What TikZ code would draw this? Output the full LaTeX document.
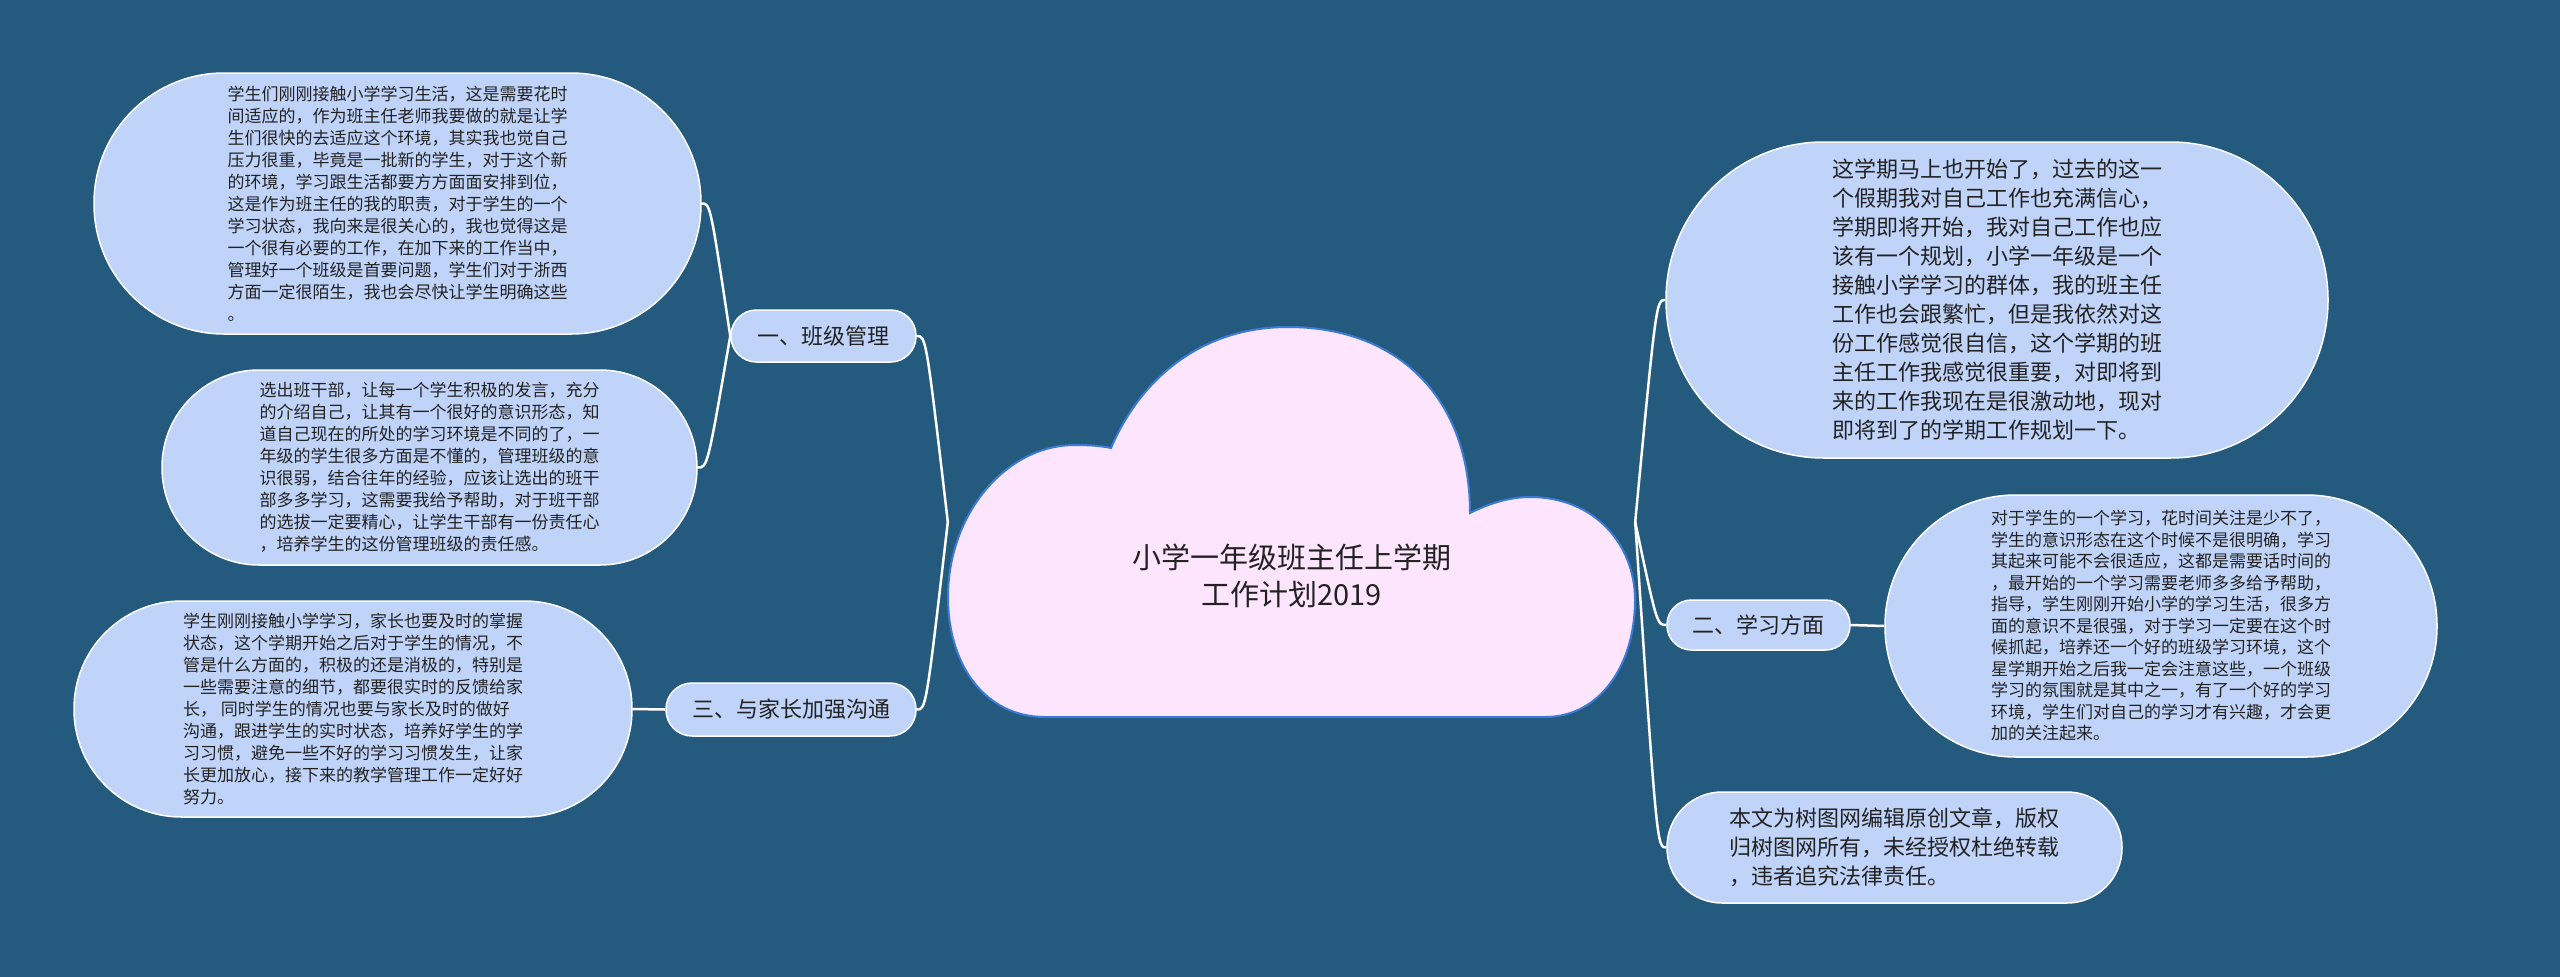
\documentclass[tikz,border=0pt]{standalone}
\usepackage{fontspec}
\setmainfont{Noto Sans CJK SC}
\usetikzlibrary{calc}
\definecolor{bgblue}{HTML}{245A7E}
\definecolor{boxblue}{HTML}{C0D4FA}
\definecolor{cloudpink}{HTML}{FEE5FE}
\definecolor{cloudedge}{HTML}{3A7BD5}
\definecolor{ink}{HTML}{222222}

\begin{document}
\begin{tikzpicture}[x=1pt,y=-1pt,
        every node/.style={inner sep=0pt,text=ink},
        leaf/.style={draw=white,fill=boxblue,line width=1.5pt,align=left,font=\fontsize{17}{22}\selectfont},
        bigleaf/.style={leaf,font=\fontsize{22}{29}\selectfont},
        topic/.style={draw=white,fill=boxblue,line width=1.5pt,font=\fontsize{22}{26}\selectfont},
        link/.style={draw=white,line width=2.5pt}]

    \useasboundingbox (0,0) rectangle (2560,977);
    \fill[bgblue] (0,0) rectangle (2560,977);

    \draw[fill=cloudpink,draw=cloudedge,line width=2pt]
        (1045,717) .. controls (985,717) and (948,665) .. (948,597)
        .. controls (948,515) and (1005,445) .. (1075,445)
        .. controls (1090,445) and (1102,446) .. (1111,448)
        .. controls (1140,380) and (1200,327) .. (1288,327)
        .. controls (1400,327) and (1470,400) .. (1470,513)
        .. controls (1492,502) and (1512,497) .. (1530,497)
        .. controls (1595,497) and (1635,545) .. (1635,600)
        .. controls (1635,665) and (1600,717) .. (1545,717) -- cycle;

    \node[minimum width=687pt,minimum height=390pt,
        label={[name=title,align=center,font=\fontsize{29}{37}\selectfont,yshift=-54pt]center:{小学一年级班主任上学期\\工作计划2019}}]
        (root) at (1291.5,522) {};

    \node[topic,minimum width=185pt,minimum height=52pt,rounded corners=25.5pt] (one) at (823.5,336) {一、班级管理};
    \node[topic,minimum width=183pt,minimum height=50pt,rounded corners=24.5pt] (two) at (1758.5,625) {二、学习方面};
    \node[topic,minimum width=250pt,minimum height=53pt,rounded corners=26pt] (three) at (791,709.5) {三、与家长加强沟通};

    \node[leaf,minimum width=607pt,minimum height=261pt,rounded corners=130pt] (a1) at (397.5,203.5) {%
        学生们刚刚接触小学学习生活，这是需要花时\\
        间适应的，作为班主任老师我要做的就是让学\\
        生们很快的去适应这个环境，其实我也觉自己\\
        压力很重，毕竟是一批新的学生，对于这个新\\
        的环境，学习跟生活都要方方面面安排到位，\\
        这是作为班主任的我的职责，对于学生的一个\\
        学习状态，我向来是很关心的，我也觉得这是\\
        一个很有必要的工作，在加下来的工作当中，\\
        管理好一个班级是首要问题，学生们对于浙西\\
        方面一定很陌生，我也会尽快让学生明确这些\\
        。};
    \node[leaf,minimum width=535pt,minimum height=195pt,rounded corners=97pt] (a2) at (429.5,467.5) {%
        选出班干部，让每一个学生积极的发言，充分\\
        的介绍自己，让其有一个很好的意识形态，知\\
        道自己现在的所处的学习环境是不同的了，一\\
        年级的学生很多方面是不懂的，管理班级的意\\
        识很弱，结合往年的经验，应该让选出的班干\\
        部多多学习，这需要我给予帮助，对于班干部\\
        的选拔一定要精心，让学生干部有一份责任心\\
        ，培养学生的这份管理班级的责任感。};
    \node[leaf,minimum width=558pt,minimum height=216pt,rounded corners=107.5pt] (a3) at (353,709) {%
        学生刚刚接触小学学习，家长也要及时的掌握\\
        状态，这个学期开始之后对于学生的情况，不\\
        管是什么方面的，积极的还是消极的，特别是\\
        一些需要注意的细节，都要很实时的反馈给家\\
        长， 同时学生的情况也要与家长及时的做好\\
        沟通，跟进学生的实时状态，培养好学生的学\\
        习习惯，避免一些不好的学习习惯发生，让家\\
        长更加放心，接下来的教学管理工作一定好好\\
        努力。};

    \node[bigleaf,minimum width=662pt,minimum height=316pt,rounded corners=157.5pt] (b1) at (1997,300) {%
        这学期马上也开始了，过去的这一\\
        个假期我对自己工作也充满信心，\\
        学期即将开始，我对自己工作也应\\
        该有一个规划，小学一年级是一个\\
        接触小学学习的群体，我的班主任\\
        工作也会跟繁忙，但是我依然对这\\
        份工作感觉很自信，这个学期的班\\
        主任工作我感觉很重要，对即将到\\
        来的工作我现在是很激动地，现对\\
        即将到了的学期工作规划一下。};
    \node[leaf,font=\fontsize{17}{21.5}\selectfont,minimum width=552pt,minimum height=262pt,rounded corners=130.5pt] (b2) at (2161,626) {%
        对于学生的一个学习，花时间关注是少不了，\\
        学生的意识形态在这个时候不是很明确，学习\\
        其起来可能不会很适应，这都是需要话时间的\\
        ，最开始的一个学习需要老师多多给予帮助，\\
        指导，学生刚刚开始小学的学习生活，很多方\\
        面的意识不是很强，对于学习一定要在这个时\\
        候抓起，培养还一个好的班级学习环境，这个\\
        星学期开始之后我一定会注意这些，一个班级\\
        学习的氛围就是其中之一，有了一个好的学习\\
        环境，学生们对自己的学习才有兴趣，才会更\\
        加的关注起来。};
    \node[bigleaf,minimum width=455pt,minimum height=111pt,rounded corners=55pt] (b3) at (1894.5,847.5) {%
        本文为树图网编辑原创文章，版权\\
        归树图网所有，未经授权杜绝转载\\
        ，违者追究法律责任。};

    \draw[link] (root.west) .. controls ($(one.east)!.3!(one.east-|root.west)$) .. (one.east);
    \draw[link] (root.west) .. controls ($(three.east)!.3!(three.east-|root.west)$) .. (three.east);
    \draw[link] (root.east) .. controls ($(b1.west)!.3!(b1.west-|root.east)$) .. (b1.west);
    \draw[link] (root.east) .. controls ($(two.west)!.3!(two.west-|root.east)$) .. (two.west);
    \draw[link] (root.east) .. controls ($(b3.west)!.3!(b3.west-|root.east)$) .. (b3.west);

    \draw[link] (one.west) .. controls ($(a1.east)!.3!(a1.east-|one.west)$) .. (a1.east);
    \draw[link] (one.west) .. controls ($(a2.east)!.3!(a2.east-|one.west)$) .. (a2.east);
    \draw[link] (three.west) -- (a3.east);
    \draw[link] (two.east) -- (b2.west);
\end{tikzpicture}
\end{document}
